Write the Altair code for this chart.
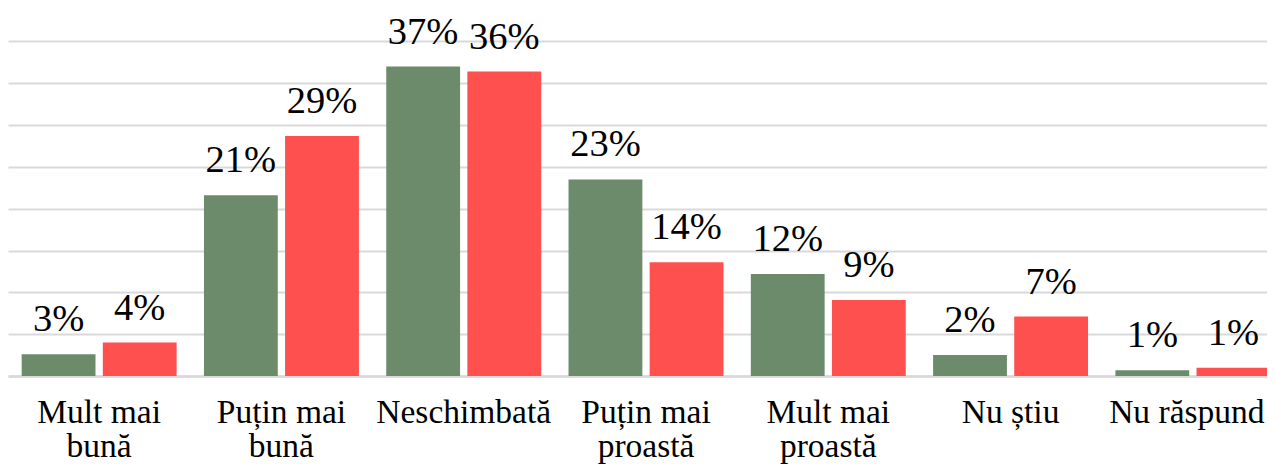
import altair as alt
import pandas as pd

categories = ["Mult mai bună", "Puțin mai bună", "Neschimbată", "Puțin mai proastă",
              "Mult mai proastă", "Nu știu", "Nu răspund"]
series = ["A", "B"]
values_a = [2.6, 21.6, 37.0, 23.5, 12.2, 2.5, 0.7]
values_b = [4.0, 28.7, 36.4, 13.6, 9.1, 7.1, 1.0]
labels_a = ["3%", "21%", "37%", "23%", "12%", "2%", "1%"]
labels_b = ["4%", "29%", "36%", "14%", "9%", "7%", "1%"]
colors = ["#6b8b6b", "#ff5050"]

rows = []
for c, va, vb, la, lb in zip(categories, values_a, values_b, labels_a, labels_b):
    rows.append({"cat": c, "series": series[0], "value": va, "label": la})
    rows.append({"cat": c, "series": series[1], "value": vb, "label": lb})
df = pd.DataFrame(rows)

FONT = "Liberation Serif"

x = alt.X(
    "cat:N",
    sort=categories,
    scale=alt.Scale(paddingInner=0.15, paddingOuter=0.075, range=[0, 1276]),
    axis=alt.Axis(
        title=None,
        labelAngle=0,
        labelFont=FONT,
        labelFontSize=33.5,
        labelColor="#000000",
        labelPadding=20,
        labelLineHeight=34,
        labelBaseline="top",
        labelOverlap=False,
        labelBound=False,
        labelOffset={"condition": {"test": "datum.value == 'Nu răspund'", "value": -6}, "value": 0},
        ticks=False,
        domain=True,
        domainColor="#d9d9d9",
        domainWidth=2.5,
        labelExpr="indexof(datum.label, ' mai ') > 0 ? [substring(datum.label, 0, indexof(datum.label, ' mai ') + 4), substring(datum.label, indexof(datum.label, ' mai ') + 5)] : datum.label",
    ),
)
y = alt.Y(
    "value:Q",
    scale=alt.Scale(domain=[0, 44], nice=False),
    axis=alt.Axis(
        title=None,
        labels=False,
        ticks=False,
        domain=False,
        values=[0, 5, 10, 15, 20, 25, 30, 35, 40],
        grid=True,
        gridColor="#d9d9d9",
        gridWidth=2,
    ),
)
xoff = alt.XOffset("series:N", sort=series, scale=alt.Scale(paddingInner=0.09))

base = alt.Chart(df).encode(x=x, xOffset=xoff)

bars = base.mark_bar().encode(
    y=y,
    color=alt.Color("series:N", scale=alt.Scale(domain=series, range=colors), legend=None),
)
text = base.mark_text(font=FONT, fontSize=38.5, baseline="alphabetic", dy=-23, color="#000000").encode(
    y=alt.Y("value:Q"),
    text="label:N",
)

chart = (bars + text).properties(
    width=1259,
    height=368,
    autosize=alt.AutoSizeParams(type="none"),
    padding={"left": 0, "right": 0, "top": 0, "bottom": 89},
).configure_view(stroke=None)

chart.save("out.html", embed_options={"renderer": "svg", "actions": False})
